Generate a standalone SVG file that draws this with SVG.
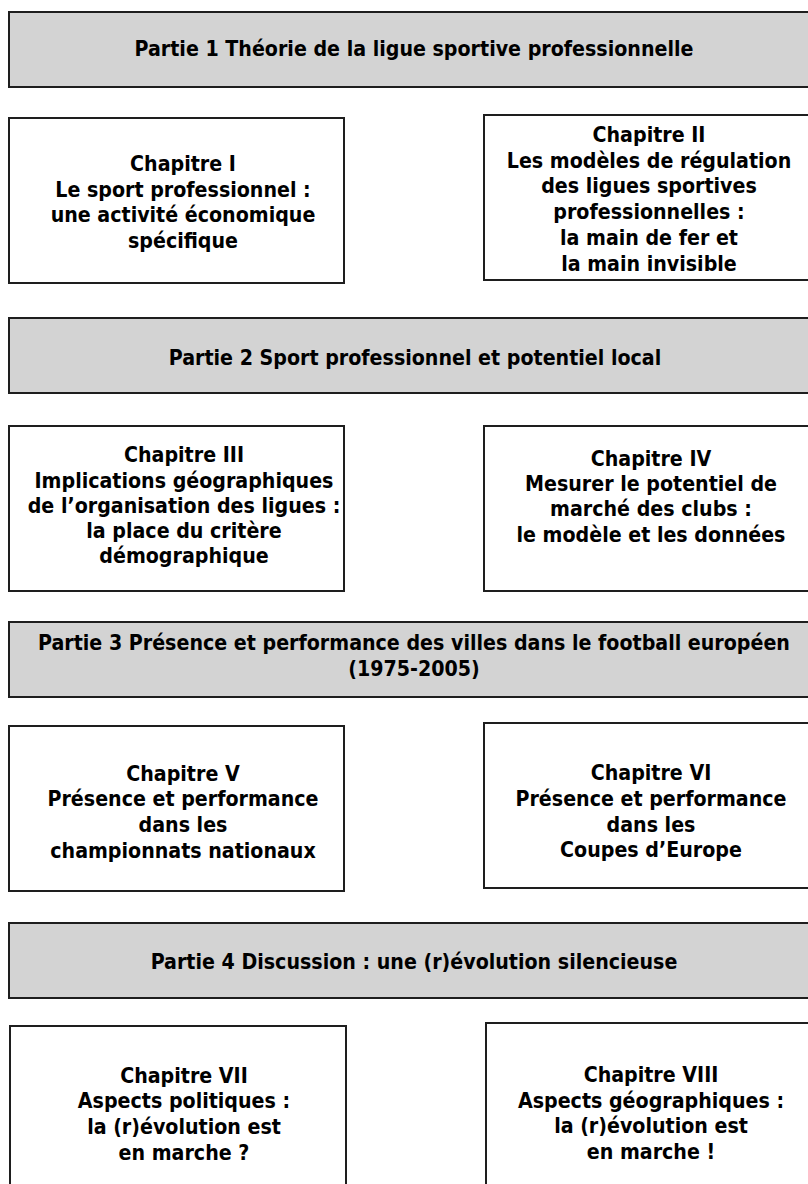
<svg xmlns="http://www.w3.org/2000/svg" width="808" height="1184" viewBox="0 0 808 1184">
<style>
.part rect{fill:#d3d3d3;stroke:#1e1e1e;stroke-width:2}
.chap rect{fill:#ffffff;stroke:#1e1e1e;stroke-width:2}
text{font-family:"DejaVu Sans Condensed","DejaVu Sans","Liberation Sans",sans-serif;font-stretch:condensed;font-weight:bold;font-size:21.2px;fill:#000;text-anchor:middle}
</style>
<rect x="0" y="0" width="808" height="1184" fill="#ffffff"/>
<g id="partie1" class="part">
<rect x="9" y="12" width="810" height="75"/>
<text x="414" y="55.5">Partie 1 Théorie de la ligue sportive professionnelle</text>
</g>
<g id="chapitre1" class="chap">
<rect x="9" y="118" width="335" height="165"/>
<text x="183" y="171">Chapitre I</text>
<text x="183" y="196.5">Le sport professionnel :</text>
<text x="183" y="222">une activité économique</text>
<text x="183" y="247.5">spécifique</text>
</g>
<g id="chapitre2" class="chap">
<rect x="484" y="115" width="330" height="165"/>
<text x="649" y="142">Chapitre II</text>
<text x="649" y="167.5">Les modèles de régulation</text>
<text x="649" y="193">des ligues sportives</text>
<text x="649" y="218.5">professionnelles :</text>
<text x="649" y="244.5">la main de fer et</text>
<text x="649" y="270.5">la main invisible</text>
</g>
<g id="partie2" class="part">
<rect x="9" y="318" width="810" height="75"/>
<text x="415" y="365">Partie 2 Sport professionnel et potentiel local</text>
</g>
<g id="chapitre3" class="chap">
<rect x="9" y="426" width="335" height="165"/>
<text x="184" y="462">Chapitre III</text>
<text x="184" y="487.5">Implications géographiques</text>
<text x="184" y="513">de l’organisation des ligues :</text>
<text x="184" y="538">la place du critère</text>
<text x="184" y="563">démographique</text>
</g>
<g id="chapitre4" class="chap">
<rect x="484" y="426" width="330" height="165"/>
<text x="651" y="465.5">Chapitre IV</text>
<text x="651" y="490.5">Mesurer le potentiel de</text>
<text x="651" y="516">marché des clubs :</text>
<text x="651" y="541.5">le modèle et les données</text>
</g>
<g id="partie3" class="part">
<rect x="9" y="622" width="810" height="75"/>
<text x="414" y="650">Partie 3 Présence et performance des villes dans le football européen</text>
<text x="414" y="676">(1975-2005)</text>
</g>
<g id="chapitre5" class="chap">
<rect x="9" y="726" width="335" height="165"/>
<text x="183" y="780.5">Chapitre V</text>
<text x="183" y="806">Présence et performance</text>
<text x="183" y="832">dans les</text>
<text x="183" y="857.5">championnats nationaux</text>
</g>
<g id="chapitre6" class="chap">
<rect x="484" y="723" width="330" height="165"/>
<text x="651" y="780">Chapitre VI</text>
<text x="651" y="805.5">Présence et performance</text>
<text x="651" y="831.5">dans les</text>
<text x="651" y="856.5">Coupes d’Europe</text>
</g>
<g id="partie4" class="part">
<rect x="9" y="923" width="810" height="75"/>
<text x="414" y="969">Partie 4 Discussion : une (r)évolution silencieuse</text>
</g>
<g id="chapitre7" class="chap">
<rect x="10" y="1026" width="336" height="200"/>
<text x="184" y="1082.5">Chapitre VII</text>
<text x="184" y="1108">Aspects politiques :</text>
<text x="184" y="1134">la (r)évolution est</text>
<text x="184" y="1159.5">en marche ?</text>
</g>
<g id="chapitre8" class="chap">
<rect x="486" y="1023" width="330" height="200"/>
<text x="651" y="1081.5">Chapitre VIII</text>
<text x="651" y="1107.5">Aspects géographiques :</text>
<text x="651" y="1133">la (r)évolution est</text>
<text x="651" y="1159">en marche !</text>
</g>
<g id="connectors"></g>
</svg>
